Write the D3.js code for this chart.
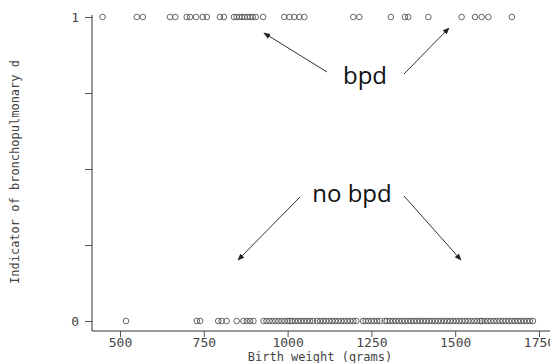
<!DOCTYPE html>
<html><head><meta charset="utf-8">
<script src="https://cdn.jsdelivr.net/npm/d3@7"></script>
<style>body{margin:0;background:#fff}svg{display:block}</style>
</head><body>
<svg id="c" width="550" height="363"></svg>
<script>
// Birth weights (grams) of infants with bpd = 1
const bpdWeights = [448, 550, 568, 649, 665, 699, 709, 727, 747, 759, 798, 810,
  840, 848, 856, 864, 872, 880, 888, 896, 905, 927, 990, 1005, 1020, 1035, 1050,
  1196, 1214, 1308, 1350, 1360, 1420, 1519, 1559, 1579, 1599, 1669];
// Birth weights (grams) of infants with bpd = 0
const noBpdWeights = [518, 729, 739, 793, 803, 818, 848, 868, 878, 888, 898,
  928, 937, 946, 955, 964, 973, 982, 991, 1000, 1007,
  1013, 1022, 1031, 1040, 1049, 1058, 1067, 1076,
  1088, 1097, 1106, 1115, 1124, 1133, 1142, 1151, 1160, 1169, 1178, 1187, 1196, 1205,
  1225, 1233, 1241, 1250, 1258, 1267, 1276, 1290,
  1296, 1305, 1314, 1323, 1332, 1341, 1350, 1359, 1368, 1377, 1386,
  1395, 1404, 1413, 1422, 1431, 1440, 1449, 1458, 1467, 1476, 1485, 1494, 1503,
  1512, 1521, 1530, 1539, 1548, 1557, 1566, 1575, 1580,
  1588, 1597, 1606, 1615, 1624, 1633, 1642, 1651, 1660, 1669, 1678, 1687, 1696, 1705, 1714,
  1723, 1732];
const xTicks = [500, 750, 1000, 1250, 1500, 1750];
const yTicks = [0, 0.25, 0.5, 0.75, 1];
const yTickLabels = ["0", "", "", "", "1"];
const annotations = [
  {text: "bpd", x: 365, y: 84, arrows: [[327, 72, 264, 33], [404, 74, 449, 28]]},
  {text: "no bpd", x: 352, y: 202, arrows: [[300, 197, 238, 260], [404, 196, 461, 260]]}
];

const svg = d3.select("#c");
const x = d3.scaleLinear().domain([500, 1750]).range([120, 539]);
const y = d3.scaleLinear().domain([0, 1]).range([321, 17]);
const axisX = 92, axisY = 331;
const gray = "#444";
const mono = "'DejaVu Sans Mono', monospace";

svg.append("defs").append("marker")
  .attr("id", "ah").attr("viewBox", "0 0 10 10").attr("refX", 9).attr("refY", 5)
  .attr("markerWidth", 7).attr("markerHeight", 7).attr("orient", "auto-start-reverse")
  .attr("markerUnits", "userSpaceOnUse")
  .append("path").attr("d", "M0,1 L10,5 L0,9 Z").attr("fill", "#222");

// bottom axis
const gx = svg.append("g").attr("transform", `translate(0,${axisY})`)
  .call(d3.axisBottom(x).tickValues(xTicks).tickSize(6).tickPadding(1).tickFormat(d3.format("d")));
gx.select(".domain").remove();
gx.append("line").attr("x1", axisX).attr("x2", 550).attr("y1", 0).attr("y2", 0)
  .attr("stroke", "#333").attr("stroke-width", 1);
gx.selectAll(".tick line").attr("stroke", "#555");
gx.selectAll(".tick text").attr("fill", gray).attr("font-family", mono).attr("font-size", 13);

// left axis
const gy = svg.append("g").attr("transform", `translate(${axisX},0)`)
  .call(d3.axisLeft(y).tickValues(yTicks).tickSize(7).tickPadding(6)
    .tickFormat((d, i) => yTickLabels[i]));
gy.select(".domain").remove();
gy.append("line").attr("x1", 0).attr("x2", 0).attr("y1", 15).attr("y2", axisY)
  .attr("stroke", "#333").attr("stroke-width", 1);
gy.selectAll(".tick line").attr("stroke", "#555");
gy.selectAll(".tick text").attr("fill", gray).attr("font-family", mono).attr("font-size", 13);

// axis titles
svg.append("text").attr("x", 320).attr("y", 361).attr("text-anchor", "middle")
  .attr("fill", gray).attr("font-family", mono).attr("font-size", 12)
  .text("Birth weight (grams)");
svg.append("text").attr("transform", "translate(19,172) rotate(-90)").attr("text-anchor", "middle")
  .attr("fill", gray).attr("font-family", mono).attr("font-size", 12)
  .text("Indicator of bronchopulmonary d");

// points
const pts = bpdWeights.map(w => ({w, v: 1})).concat(noBpdWeights.map(w => ({w, v: 0})));
svg.append("g").selectAll("circle").data(pts).join("circle")
  .attr("cx", d => x(d.w)).attr("cy", d => y(d.v)).attr("r", 2.8)
  .attr("fill", "none").attr("stroke", "#555").attr("stroke-width", 0.9);

// annotations
annotations.forEach(a => {
  svg.append("text").attr("x", a.x).attr("y", a.y).attr("text-anchor", "middle")
    .attr("font-family", "'Open Sans', sans-serif").attr("font-size", 24).attr("fill", "#111")
    .text(a.text);
  a.arrows.forEach(([x1, y1, x2, y2]) => {
    svg.append("line").attr("x1", x1).attr("y1", y1).attr("x2", x2).attr("y2", y2)
      .attr("stroke", "#333").attr("stroke-width", 1).attr("marker-end", "url(#ah)");
  });
});
</script>
</body></html>
